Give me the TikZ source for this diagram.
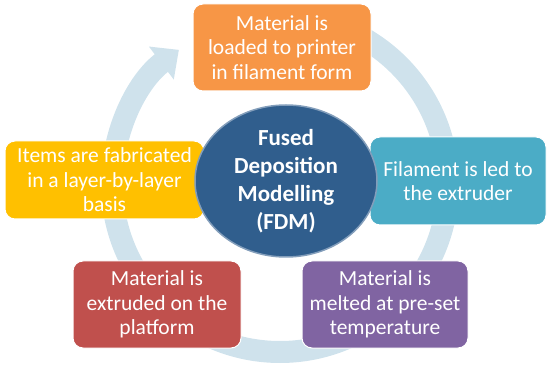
\documentclass[tikz,border=0pt]{standalone}
\usepackage{fontspec}
\setmainfont{Carlito}
\usepackage{xcolor}
\usepackage{tikz}
\usetikzlibrary{arrows.meta, positioning, shapes.geometric}

\definecolor{stepOrange}{HTML}{F79646}
\definecolor{stepYellow}{HTML}{FFC000}
\definecolor{stepTeal}{HTML}{4BACC6}
\definecolor{stepRed}{HTML}{C0504D}
\definecolor{stepPurple}{HTML}{8064A2}
\definecolor{hubBlue}{RGB}{48,94,141}
\definecolor{ringBlue}{RGB}{207,226,236}

\tikzset{
    stepbox/.style={rectangle, rounded corners=10pt, draw=white, line width=1pt,
        text=white, align=center, inner sep=2pt,
        font=\fontsize{21.5}{24.5}\selectfont},
    hub/.style={ellipse, fill=hubBlue, draw=hubBlue!60!white, line width=1.5pt,
        minimum width=182pt, minimum height=152pt, inner sep=0pt,
        text=white, align=center, font=\bfseries\fontsize{23}{28}\selectfont},
    cyclearrow/.style={draw=ringBlue, line width=22pt,
        -{Triangle[width=40pt, length=22pt]}}
}

\begin{document}
\begin{tikzpicture}[x=1pt, y=1pt]
    \useasboundingbox (0,0) rectangle (550,373);

    % Anello del ciclo
    \coordinate (centre) at (280,189);
    \draw[cyclearrow] ([shift={(90:168pt)}]centre) arc[start angle=90, end angle=-233, radius=168pt];

    % Fasi del processo
    \node[stepbox, fill=stepOrange, minimum width=178pt, minimum height=87pt] (load) at (282,325.5)
        {Material is\\loaded to printer\\in filament form};
    \node[stepbox, fill=stepTeal, minimum width=176pt, minimum height=88pt] (lead) at (458,192)
        {Filament is led to\\the extruder};
    \node[stepbox, fill=stepPurple, minimum width=166pt, minimum height=87pt] (melt) at (385,68.5)
        {Material is\\melted at pre-set\\temperature};
    \node[stepbox, fill=stepRed, minimum width=168pt, minimum height=87pt] (extrude) at (157,68.5)
        {Material is\\extruded on the\\platform};
    \node[stepbox, fill=stepYellow, minimum width=199pt, minimum height=78pt] (layer) at (104.5,193)
        {Items are fabricated\\in a layer-by-layer\\basis};

    % Nodo centrale
    \node[hub] (fdm) at (286,192) {Fused\\Deposition\\Modelling\\(FDM)};
\end{tikzpicture}
\end{document}
